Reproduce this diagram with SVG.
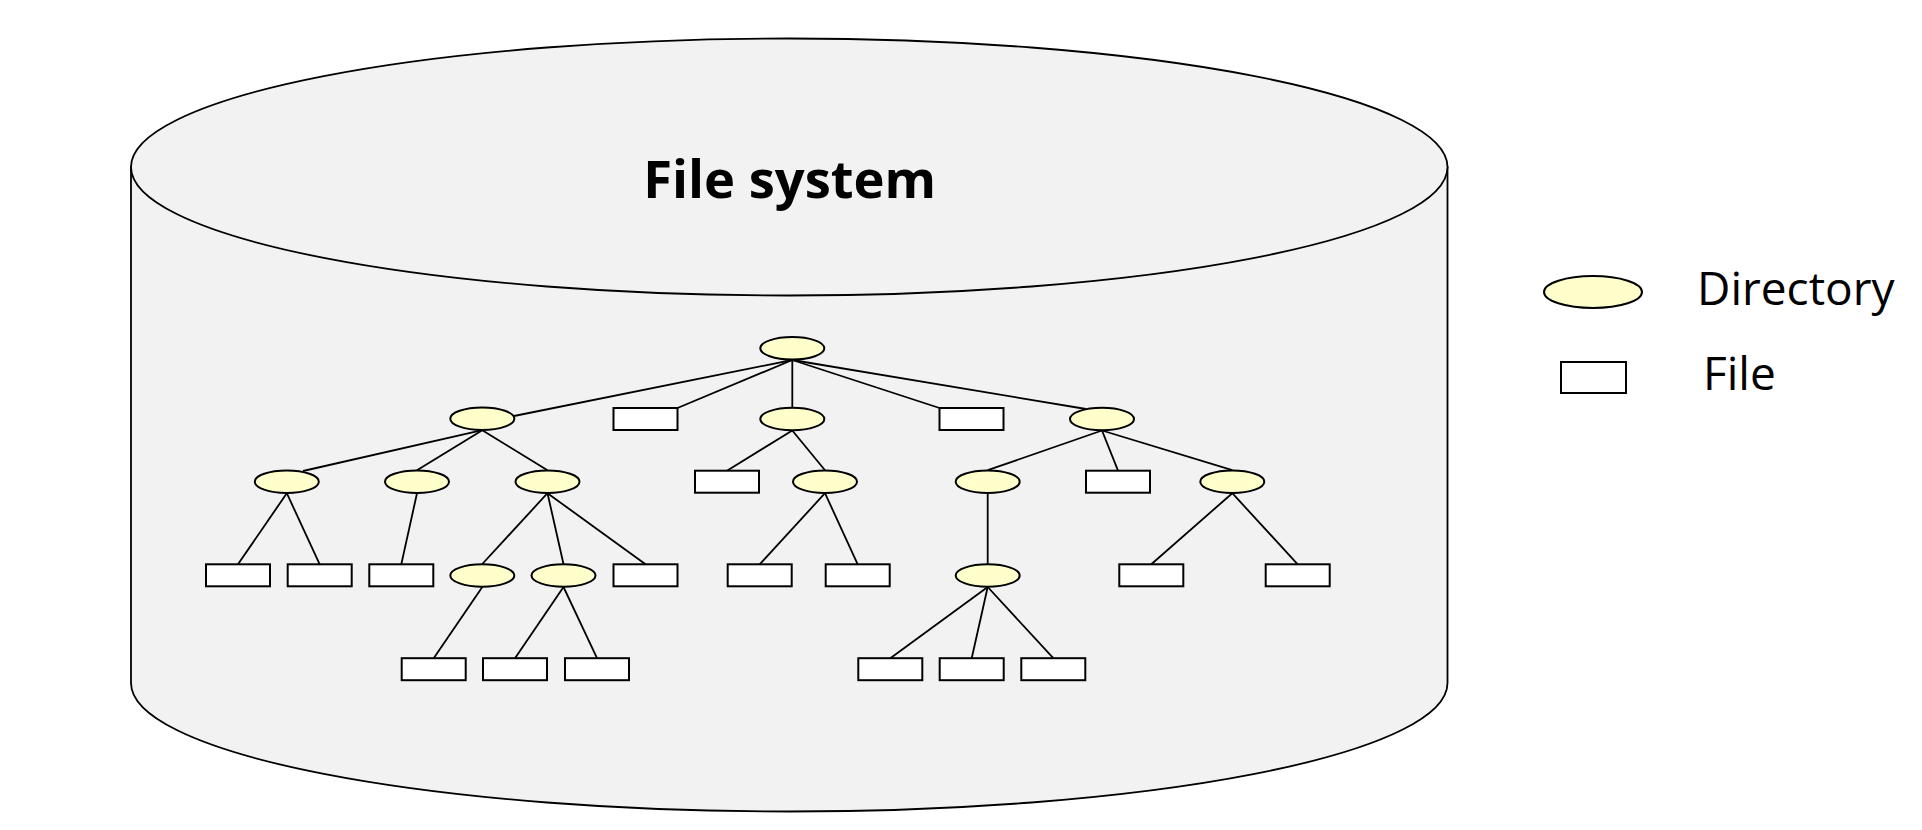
<svg xmlns="http://www.w3.org/2000/svg" width="1922" height="830" viewBox="0 0 1922 830">
<style>
.cyl{fill:#F2F2F2;stroke:#000;stroke-width:1.8}
.dir{fill:#FFFFCC;stroke:#000;stroke-width:2}
.file{fill:#FFFFFF;stroke:#000;stroke-width:2}
.conn line{stroke:#000;stroke-width:1.8;stroke-linecap:butt}
.title{font-family:"Open Sans","Noto Sans","Liberation Sans",sans-serif;font-weight:bold;font-size:52.5px;fill:#000}
.leg{font-family:"Open Sans","Noto Sans","Liberation Sans",sans-serif;font-size:46px;fill:#000}
</style>
<rect width="1922" height="830" fill="#FFFFFF"/>
<g id="filesystem">
<path class="cyl" d="M131,167 L131,683 A658.25,128.5 0 0 0 1447.5,683 L1447.5,167 Z"/>
<ellipse class="cyl" cx="789.25" cy="167" rx="658.25" ry="128.5"/>
<text class="title" x="789.7" y="198" text-anchor="middle">File system</text>
</g>
<g id="connectors" class="conn">
<line x1="792.3" y1="360" x2="514" y2="416"/>
<line x1="792.3" y1="360" x2="677.5" y2="408"/>
<line x1="792.3" y1="360" x2="792.3" y2="407.5"/>
<line x1="792.3" y1="360" x2="939.5" y2="408"/>
<line x1="792.3" y1="360" x2="1086" y2="409"/>
<line x1="482.3" y1="430.2" x2="303" y2="471"/>
<line x1="482.3" y1="430.2" x2="417" y2="470.2"/>
<line x1="482.3" y1="430.2" x2="547.5" y2="470.2"/>
<line x1="792.3" y1="430.5" x2="727" y2="470.7"/>
<line x1="792.3" y1="430.5" x2="825" y2="470.2"/>
<line x1="1102" y1="430.5" x2="987.7" y2="470.2"/>
<line x1="1102" y1="430.5" x2="1118" y2="470.7"/>
<line x1="1102" y1="430.5" x2="1232.3" y2="470.2"/>
<line x1="286.8" y1="493.2" x2="238" y2="564.3"/>
<line x1="286.8" y1="493.2" x2="319.7" y2="564.3"/>
<line x1="417" y1="493.2" x2="401.3" y2="564.3"/>
<line x1="547.5" y1="493.2" x2="482.3" y2="564"/>
<line x1="547.5" y1="493.2" x2="563.5" y2="564"/>
<line x1="547.5" y1="493.2" x2="645.5" y2="564.3"/>
<line x1="825" y1="493.2" x2="759.7" y2="564.3"/>
<line x1="825" y1="493.2" x2="857.7" y2="564.3"/>
<line x1="987.7" y1="493.2" x2="987.7" y2="564"/>
<line x1="1232.3" y1="493.2" x2="1151.3" y2="564.3"/>
<line x1="1232.3" y1="493.2" x2="1297.7" y2="564.3"/>
<line x1="482.3" y1="587" x2="433.7" y2="658.2"/>
<line x1="563.5" y1="587" x2="515" y2="658.2"/>
<line x1="563.5" y1="587" x2="597" y2="658.2"/>
<line x1="987.7" y1="587" x2="890.3" y2="658.2"/>
<line x1="987.7" y1="587" x2="971.7" y2="658.2"/>
<line x1="987.7" y1="587" x2="1053.3" y2="658.2"/>
</g>
<g id="root"><ellipse class="dir" cx="792.3" cy="348.3" rx="32" ry="11.2"/></g>
<g id="dir-a"><ellipse class="dir" cx="482.3" cy="418.7" rx="32" ry="11.2"/></g>
<g id="file-f1"><rect class="file" x="613.5" y="408" width="64" height="22"/></g>
<g id="dir-d"><ellipse class="dir" cx="792.3" cy="419" rx="32" ry="11.2"/></g>
<g id="file-f2"><rect class="file" x="939.5" y="408" width="64" height="22"/></g>
<g id="dir-e"><ellipse class="dir" cx="1102" cy="419" rx="32" ry="11.2"/></g>
<g id="dir-b1"><ellipse class="dir" cx="286.8" cy="481.7" rx="32" ry="11.2"/></g>
<g id="dir-b2"><ellipse class="dir" cx="417" cy="481.7" rx="32" ry="11.2"/></g>
<g id="dir-b3"><ellipse class="dir" cx="547.5" cy="481.7" rx="32" ry="11.2"/></g>
<g id="file-f3"><rect class="file" x="695" y="470.7" width="64" height="22"/></g>
<g id="dir-g"><ellipse class="dir" cx="825" cy="481.7" rx="32" ry="11.2"/></g>
<g id="dir-i"><ellipse class="dir" cx="987.7" cy="481.7" rx="32" ry="11.2"/></g>
<g id="file-f7"><rect class="file" x="1086" y="470.7" width="64" height="22"/></g>
<g id="dir-j"><ellipse class="dir" cx="1232.3" cy="481.7" rx="32" ry="11.2"/></g>
<g id="file-r1"><rect class="file" x="206" y="564.3" width="64" height="22"/></g>
<g id="file-r2"><rect class="file" x="287.7" y="564.3" width="64" height="22"/></g>
<g id="file-r3"><rect class="file" x="369.3" y="564.3" width="64" height="22"/></g>
<g id="dir-c1"><ellipse class="dir" cx="482.3" cy="575.5" rx="32" ry="11.2"/></g>
<g id="dir-c2"><ellipse class="dir" cx="563.5" cy="575.5" rx="32" ry="11.2"/></g>
<g id="file-f4"><rect class="file" x="613.5" y="564.3" width="64" height="22"/></g>
<g id="file-f5"><rect class="file" x="727.7" y="564.3" width="64" height="22"/></g>
<g id="file-f6"><rect class="file" x="825.7" y="564.3" width="64" height="22"/></g>
<g id="dir-k"><ellipse class="dir" cx="987.7" cy="575.5" rx="32" ry="11.2"/></g>
<g id="file-f8"><rect class="file" x="1119.3" y="564.3" width="64" height="22"/></g>
<g id="file-f9"><rect class="file" x="1265.7" y="564.3" width="64" height="22"/></g>
<g id="file-r4"><rect class="file" x="401.7" y="658.2" width="64" height="22"/></g>
<g id="file-r5"><rect class="file" x="483" y="658.2" width="64" height="22"/></g>
<g id="file-r6"><rect class="file" x="565" y="658.2" width="64" height="22"/></g>
<g id="file-h1"><rect class="file" x="858.3" y="658.2" width="64" height="22"/></g>
<g id="file-h2"><rect class="file" x="939.7" y="658.2" width="64" height="22"/></g>
<g id="file-h3"><rect class="file" x="1021.3" y="658.2" width="64" height="22"/></g>
<g id="legend-directory">
<ellipse class="dir" cx="1593" cy="292" rx="49" ry="16"/>
<text class="leg" x="1697" y="305">Directory</text>
</g>
<g id="legend-file">
<rect class="file" x="1561" y="362" width="65" height="31"/>
<text class="leg" x="1703" y="390">File</text>
</g>
</svg>
